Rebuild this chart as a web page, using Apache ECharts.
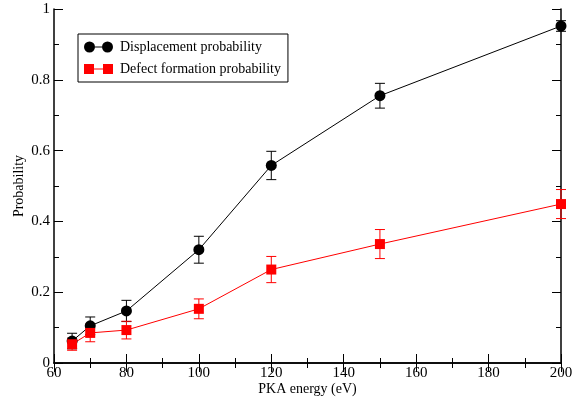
<!DOCTYPE html>
<html>
<head>
<meta charset="utf-8">
<script src="https://cdn.jsdelivr.net/npm/echarts@6/dist/echarts.min.js"></script>
<style>
  html, body { margin: 0; padding: 0; background: #fff; }
  #chart { width: 582px; height: 399px; }
</style>
</head>
<body>
<div id="chart"></div>
<script>
const energies = [65, 70, 80, 100, 120, 150, 200];
const dispProb = [0.062, 0.105, 0.147, 0.32, 0.558, 0.755, 0.952];
const dispErr = [0.022, 0.025, 0.03, 0.038, 0.04, 0.035, 0.015];
const defectProb = [0.053, 0.085, 0.093, 0.153, 0.264, 0.336, 0.449];
const defectErr = [0.017, 0.025, 0.025, 0.028, 0.037, 0.041, 0.041];

const FONT = 'Liberation Serif';

// circle-line-circle and square-line-square icons for the legend
const circleIcon = 'path://M0,5.5A5.5,5.5,0,1,1,11,5.5A5.5,5.5,0,1,1,0,5.5Z M11,5L18,5L18,6L11,6Z M18,5.5A5.5,5.5,0,1,1,29,5.5A5.5,5.5,0,1,1,18,5.5Z';
const squareIcon = 'path://M0,0.5L10,0.5L10,10.5L0,10.5Z M10,5L19,5L19,6L10,6Z M19,0.5L29,0.5L29,10.5L19,10.5Z';

function errData(probs, errs) {
  return energies.map((e, i) => [e, probs[i] - errs[i], probs[i] + errs[i]]);
}

function errSeries(data, color) {
  return {
    type: 'custom',
    silent: true,
    z: 1,
    data: data,
    renderItem: (params, api) => {
      const lo = api.coord([api.value(0), api.value(1)]);
      const hi = api.coord([api.value(0), api.value(2)]);
      const w = 5;
      return {
        type: 'group',
        children: [
          { type: 'line', shape: { x1: lo[0], y1: lo[1], x2: hi[0], y2: hi[1] }, style: { stroke: color, lineWidth: 1 } },
          { type: 'line', shape: { x1: lo[0] - w, y1: lo[1], x2: lo[0] + w, y2: lo[1] }, style: { stroke: color, lineWidth: 1 } },
          { type: 'line', shape: { x1: hi[0] - w, y1: hi[1], x2: hi[0] + w, y2: hi[1] }, style: { stroke: color, lineWidth: 1 } }
        ]
      };
    }
  };
}

const axisLineStyle = { show: true, lineStyle: { color: '#000', width: 1.5 } };
const labelStyle = { fontFamily: FONT, fontSize: 15, color: '#000' };
const nameStyle = { fontFamily: FONT, fontSize: 14, color: '#000' };

function xAxisCfg(pos, labels) {
  return {
    type: 'value', position: pos, min: 60, max: 200, interval: 20,
    axisLine: axisLineStyle,
    axisTick: { show: true, inside: true, length: 9, lineStyle: { color: '#000' } },
    minorTick: { show: true, splitNumber: 2, length: 5, lineStyle: { color: '#000' } },
    splitLine: { show: false },
    axisLabel: Object.assign({ show: labels, margin: 3 }, labelStyle)
  };
}

function yAxisCfg(pos, labels) {
  return {
    type: 'value', position: pos, min: 0, max: 1, interval: 0.2,
    axisLine: axisLineStyle,
    axisTick: { show: true, inside: true, length: 9, lineStyle: { color: '#000' } },
    minorTick: { show: true, splitNumber: 2, length: 5, lineStyle: { color: '#000' } },
    splitLine: { show: false },
    axisLabel: Object.assign({ show: labels, margin: 4 }, labelStyle)
  };
}

const xMain = xAxisCfg('bottom', true);
xMain.name = 'PKA energy (eV)';
xMain.nameLocation = 'middle';
xMain.nameGap = 19;
xMain.nameMoveOverlap = false;
xMain.nameTextStyle = nameStyle;

const yMain = yAxisCfg('left', true);
yMain.name = 'Probability';
yMain.nameLocation = 'middle';
yMain.nameGap = 28;
yMain.nameMoveOverlap = false;
yMain.nameTextStyle = nameStyle;

const chart = echarts.init(document.getElementById('chart'), null, { renderer: 'canvas' });
chart.setOption({
  animation: false,
  backgroundColor: '#fff',
  grid: { left: 54, right: 21, top: 9, bottom: 36, outerBoundsMode: 'none' },
  xAxis: [xMain, xAxisCfg('top', false)],
  yAxis: [yMain, yAxisCfg('right', false)],
  legend: {
    left: 78, top: 34,
    orient: 'vertical',
    itemWidth: 29, itemHeight: 11, itemGap: 8,
    padding: [6, 7, 6, 6],
    borderColor: '#000', borderWidth: 1,
    backgroundColor: '#fff',
    textStyle: { fontFamily: FONT, fontSize: 14, color: '#000', padding: [0, 0, 0, 2] },
    data: [
      { name: 'Displacement probability', icon: circleIcon, itemStyle: { color: '#000' } },
      { name: 'Defect formation probability', icon: squareIcon, itemStyle: { color: '#ff0000' } }
    ]
  },
  series: [
    errSeries(errData(dispProb, dispErr), '#000'),
    errSeries(errData(defectProb, defectErr), '#ff0000'),
    {
      name: 'Displacement probability',
      type: 'line', z: 3,
      data: energies.map((e, i) => [e, dispProb[i]]),
      symbol: 'circle', symbolSize: 11,
      itemStyle: { color: '#000' },
      lineStyle: { color: '#000', width: 1 }
    },
    {
      name: 'Defect formation probability',
      type: 'line', z: 3,
      data: energies.map((e, i) => [e, defectProb[i]]),
      symbol: 'rect', symbolSize: 10,
      itemStyle: { color: '#ff0000' },
      lineStyle: { color: '#ff0000', width: 1 }
    }
  ]
});
</script>
</body>
</html>
